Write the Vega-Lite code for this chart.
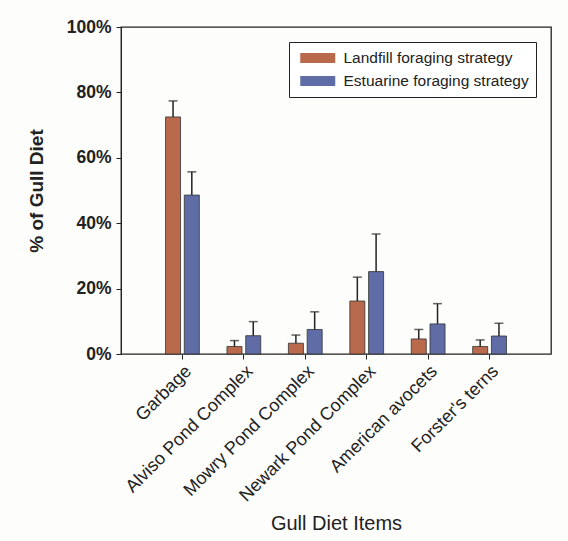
{
  "$schema": "https://vega.github.io/schema/vega-lite/v6.json",
  "width": 430,
  "height": 327,
  "autosize": {"type": "none"},
  "padding": {"left": 121, "top": 27, "right": 17, "bottom": 187},
  "background": "#fdfdfb",
  "config": {
    "font": "Liberation Sans",
    "view": {"stroke": "#222", "strokeWidth": 1.3},
    "axis": {"domainColor": "#222", "tickColor": "#222", "labelColor": "#222", "titleColor": "#222", "grid": false}
  },
  "data": {
    "values": [
      {"item": "Garbage", "strategy": "Landfill foraging strategy", "value": 72.5, "upper": 77.4},
      {"item": "Garbage", "strategy": "Estuarine foraging strategy", "value": 48.6, "upper": 55.7},
      {"item": "Alviso Pond Complex", "strategy": "Landfill foraging strategy", "value": 2.3, "upper": 4.1},
      {"item": "Alviso Pond Complex", "strategy": "Estuarine foraging strategy", "value": 5.6, "upper": 9.9},
      {"item": "Mowry Pond Complex", "strategy": "Landfill foraging strategy", "value": 3.3, "upper": 5.8},
      {"item": "Mowry Pond Complex", "strategy": "Estuarine foraging strategy", "value": 7.5, "upper": 12.9},
      {"item": "Newark Pond Complex", "strategy": "Landfill foraging strategy", "value": 16.2, "upper": 23.5},
      {"item": "Newark Pond Complex", "strategy": "Estuarine foraging strategy", "value": 25.2, "upper": 36.7},
      {"item": "American avocets", "strategy": "Landfill foraging strategy", "value": 4.6, "upper": 7.5},
      {"item": "American avocets", "strategy": "Estuarine foraging strategy", "value": 9.2, "upper": 15.4},
      {"item": "Forster's terns", "strategy": "Landfill foraging strategy", "value": 2.3, "upper": 4.3},
      {"item": "Forster's terns", "strategy": "Estuarine foraging strategy", "value": 5.5, "upper": 9.4}
    ]
  },
  "encoding": {
    "x": {
      "field": "item", "type": "nominal", "sort": null,
      "scale": {"paddingInner": 0.45, "paddingOuter": 0.725},
      "axis": {
        "title": "Gull Diet Items", "titleFontSize": 20, "titleFontWeight": "normal", "titlePadding": 9,
        "labelAngle": -45, "labelFontSize": 18, "labelPadding": 3, "labelLimit": 400, "tickSize": 5, "domain": false
      }
    },
    "xOffset": {
      "field": "strategy", "type": "nominal", "sort": ["Landfill foraging strategy", "Estuarine foraging strategy"],
      "scale": {"paddingInner": 0.2, "paddingOuter": 0}
    }
  },
  "layer": [
    {
      "mark": {"type": "bar", "stroke": "#333", "strokeWidth": 0.8},
      "encoding": {
        "y": {
          "field": "value", "type": "quantitative",
          "scale": {"domain": [0, 100], "nice": false},
          "axis": {
            "title": "% of Gull Diet", "titleFontSize": 19, "titleFontWeight": "bold", "titlePadding": 20,
            "values": [0, 10, 20, 30, 40, 50, 60, 70, 80, 90, 100],
            "labelExpr": "datum.value % 20 === 0 ? datum.value + '%' : ''",
            "labelFontSize": 17.5, "labelFontWeight": "bold", "labelPadding": 5,
            "tickSize": {"condition": {"test": "datum.value % 20 === 0", "value": 5}, "value": 2.5}
          }
        },
        "color": {
          "field": "strategy", "type": "nominal",
          "sort": ["Landfill foraging strategy", "Estuarine foraging strategy"],
          "scale": {"domain": ["Landfill foraging strategy", "Estuarine foraging strategy"], "range": ["#b9694c", "#5f6ca6"]},
          "legend": {
            "title": null, "orient": "top-right", "offset": 15,
            "strokeColor": "#222", "padding": 7, "fillColor": "white",
            "labelFontSize": 15.5, "labelColor": "#222", "labelLimit": 400, "labelOffset": 16.75, "rowPadding": 5,
            "symbolOffset": 12.75,
            "symbolType": "M-2,-0.57H2V0.57H-2Z", "symbolSize": 306, "symbolStrokeWidth": 0
          }
        }
      }
    },
    {
      "mark": {"type": "rule", "color": "#222", "strokeWidth": 1.5},
      "encoding": {
        "y": {"field": "value", "type": "quantitative"},
        "y2": {"field": "upper"}
      }
    },
    {
      "mark": {"type": "tick", "color": "#222", "thickness": 1.5, "size": 9},
      "encoding": {
        "y": {"field": "upper", "type": "quantitative"}
      }
    }
  ]
}
